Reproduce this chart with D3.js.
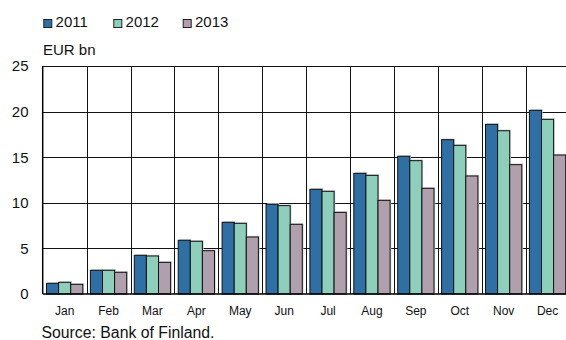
<!DOCTYPE html>
<html>
<head>
<meta charset="utf-8">
<script src="https://cdn.jsdelivr.net/npm/d3@7"></script>
<style>
  html, body { margin: 0; padding: 0; background: #fff; }
  svg { display: block; font-family: "Liberation Sans", Arial, sans-serif; }
</style>
</head>
<body>
<svg id="chart" width="566" height="340"></svg>
<script>
// Monthly cumulative values, EUR bn
const months = ["Jan", "Feb", "Mar", "Apr", "May", "Jun", "Jul", "Aug", "Sep", "Oct", "Nov", "Dec"];
const seriesNames = ["2011", "2012", "2013"];
const values2011 = [1.17, 2.6, 4.24, 5.89, 7.86, 9.83, 11.48, 13.23, 15.1, 16.92, 18.6, 20.14];
const values2012 = [1.28, 2.6, 4.17, 5.78, 7.75, 9.69, 11.26, 13.01, 14.62, 16.3, 17.9, 19.15];
const values2013 = [1.06, 2.38, 3.47, 4.75, 6.25, 7.64, 8.95, 10.27, 11.59, 12.94, 14.18, 15.24];
const yTicks = [0, 5, 10, 15, 20, 25];
const colors = ["#2e6fa5", "#8ecfbb", "#b09fad"];

const seriesValues = [values2011, values2012, values2013];

const svg = d3.select("#chart");

const plotLeft = 42.7, catW = 43.9, plotTop = 66, plotBottom = 294;

const x = d3.scaleBand().domain(months).range([plotLeft, plotLeft + catW * months.length]).padding(0);
const x1 = d3.scaleBand().domain(seriesNames).range([3.8, x.bandwidth() - 3.8]).padding(0);
const y = d3.scaleLinear().domain([0, 25]).range([plotBottom, plotTop]);

// Horizontal grid lines
svg.append("g").selectAll("line")
  .data(yTicks.filter(d => d > 0))
  .join("line")
  .attr("x1", plotLeft).attr("x2", x.range()[1])
  .attr("y1", d => Math.round(y(d)) + 0.5).attr("y2", d => Math.round(y(d)) + 0.5)
  .attr("stroke", "#111").attr("stroke-width", 1);

// Vertical grid lines at month boundaries
svg.append("g").selectAll("line")
  .data(months.slice(1))
  .join("line")
  .attr("x1", d => Math.round(x(d)) + 0.5).attr("x2", d => Math.round(x(d)) + 0.5)
  .attr("y1", plotTop).attr("y2", plotBottom)
  .attr("stroke", "#111").attr("stroke-width", 1);

// Bars
const groups = svg.append("g").selectAll("g")
  .data(months)
  .join("g")
  .attr("transform", d => `translate(${x(d)},0)`);

groups.selectAll("rect.shadow")
  .data((m, i) => seriesNames.map((s, j) => ({ s, v: seriesValues[j][i] })))
  .join("rect")
  .attr("class", "shadow")
  .attr("x", d => x1(d.s) + 1.2)
  .attr("y", d => y(d.v) - 1.2)
  .attr("width", x1.bandwidth())
  .attr("height", d => y(0) - y(d.v))
  .attr("fill", "#d0d0d0");

groups.selectAll("rect.bar")
  .data((m, i) => seriesNames.map((s, j) => ({ s, j, v: seriesValues[j][i] })))
  .join("rect")
  .attr("class", "bar")
  .attr("x", d => x1(d.s))
  .attr("y", d => y(d.v))
  .attr("width", x1.bandwidth())
  .attr("height", d => y(0) - y(d.v))
  .attr("fill", d => colors[d.j])
  .attr("stroke", "#111")
  .attr("stroke-width", 1);

// Axis lines
svg.append("line")
  .attr("x1", plotLeft).attr("x2", x.range()[1])
  .attr("y1", plotBottom).attr("y2", plotBottom)
  .attr("stroke", "#000").attr("stroke-width", 1.5);
svg.append("line")
  .attr("x1", plotLeft).attr("x2", plotLeft)
  .attr("y1", plotTop).attr("y2", plotBottom)
  .attr("stroke", "#000").attr("stroke-width", 1.5);

// Y tick labels
svg.append("g").selectAll("text")
  .data(yTicks)
  .join("text")
  .attr("x", 28.5)
  .attr("y", d => y(d))
  .attr("dy", "0.36em")
  .attr("text-anchor", "end")
  .attr("font-size", 15)
  .attr("fill", "#111")
  .text(d => d);

// Month labels, centred under each group
svg.append("g").selectAll("text")
  .data(months)
  .join("text")
  .attr("x", d => x(d) + x.bandwidth() / 2)
  .attr("y", 315)
  .attr("text-anchor", "middle")
  .attr("font-size", 12)
  .attr("fill", "#111")
  .text(d => d);

// Unit label
svg.append("text")
  .attr("x", 43).attr("y", 55)
  .attr("font-size", 15).attr("fill", "#111")
  .text("EUR bn");

// Legend
const legendX = [43.3, 113.3, 182.7];
const legend = svg.append("g").selectAll("g")
  .data(seriesNames)
  .join("g")
  .attr("transform", (d, i) => `translate(${legendX[i]},0)`);
legend.append("rect")
  .attr("x", 0.5).attr("y", 19.5)
  .attr("width", 8).attr("height", 8)
  .attr("fill", (d, i) => colors[i])
  .attr("stroke", "#222").attr("stroke-width", 1);
legend.append("text")
  .attr("x", 12.3).attr("y", 27.3)
  .attr("font-size", 15).attr("fill", "#111")
  .text(d => d);

// Source note
svg.append("text")
  .attr("x", 41.5).attr("y", 338.3)
  .attr("font-size", 15.8).attr("fill", "#111")
  .text("Source: Bank of Finland.");
</script>
</body>
</html>
